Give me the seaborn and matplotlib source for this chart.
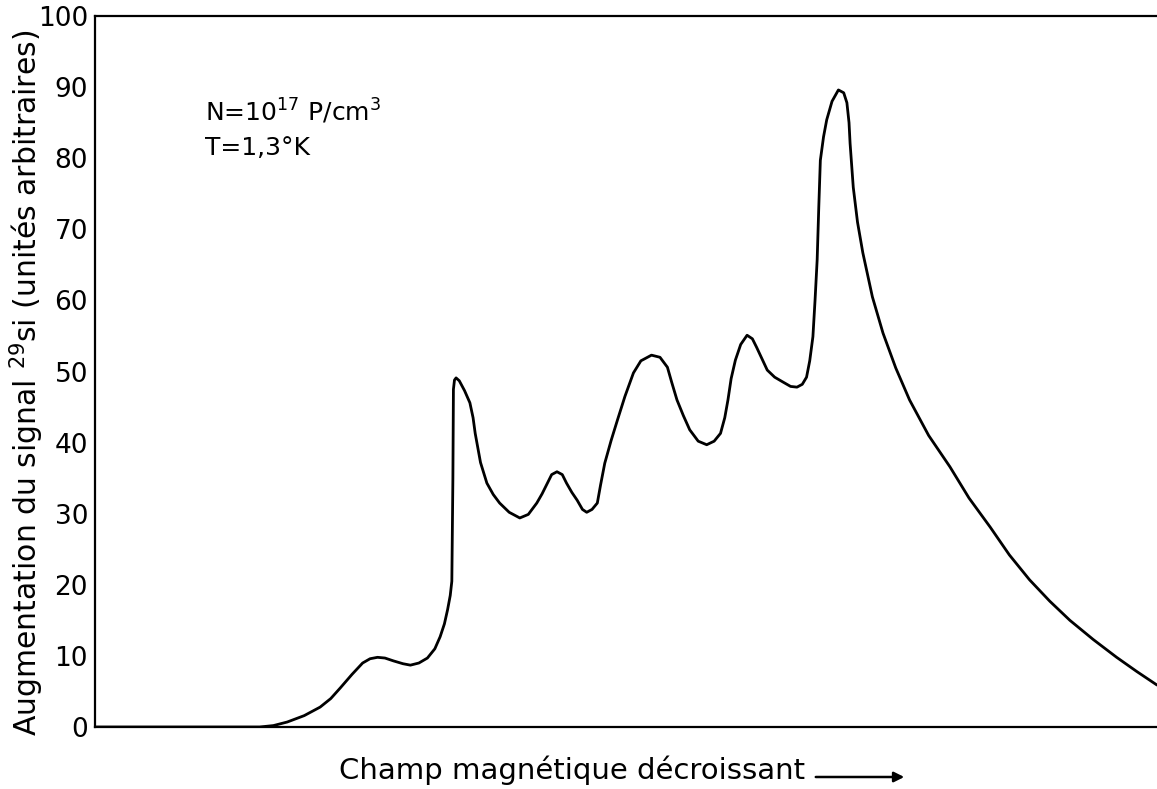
import numpy as np
import pandas as pd
import matplotlib
matplotlib.use("Agg")
import matplotlib.pyplot as plt
import seaborn as sns

# Data (field axis in arbitrary units 0-100)
champ = [0, 5, 10, 15.5, 16.8, 18.1, 19.7, 21.2, 22.2, 23.1, 24.2, 25.2, 25.9, 26.6,
         27.3, 28.1, 29.0, 29.7, 30.5, 31.3, 32.0, 32.5, 32.9, 33.2, 33.45, 33.6,
         33.7, 33.75, 33.85, 34.0, 34.3, 34.8, 35.3, 35.6, 35.8, 36.3, 36.9, 37.5,
         38.1, 39.0, 40.0, 40.8, 41.6, 42.1, 42.6, 43.0, 43.5, 44.0, 44.4, 44.9,
         45.4, 45.9, 46.3, 46.8, 47.3, 47.6, 48.0, 48.6, 49.2, 49.9, 50.7, 51.4,
         52.4, 53.2, 53.9, 54.3, 54.8, 55.4, 56.0, 56.8, 57.6, 58.3, 58.9, 59.3,
         59.6, 59.9, 60.3, 60.8, 61.4, 61.9, 62.3, 62.8, 63.3, 64.0, 64.8, 65.5,
         66.1, 66.6, 67.0, 67.3, 67.6, 67.8, 68.0, 68.15, 68.3, 68.6, 68.9, 69.4,
         70.0, 70.5, 70.8, 71.0, 71.1, 71.4, 71.8, 72.3, 73.2, 74.2, 75.4, 76.7,
         78.5, 80.5, 82.3, 84.3, 86.1, 88.0, 89.9, 91.8, 94.0, 96.2, 98.1, 100.0]
signal = [0, 0, 0, 0, 0.2, 0.7, 1.6, 2.8, 4.0, 5.5, 7.4, 9.0, 9.6, 9.8,
          9.7, 9.3, 8.9, 8.7, 9.0, 9.7, 11.0, 12.7, 14.5, 16.5, 18.5, 20.5,
          35.0, 47.5, 48.8, 49.1, 48.7, 47.3, 45.6, 43.5, 41.3, 37.2, 34.3, 32.7,
          31.5, 30.2, 29.4, 29.9, 31.5, 32.8, 34.3, 35.5, 35.9, 35.5, 34.3, 33.0,
          31.9, 30.6, 30.2, 30.6, 31.5, 34.0, 37.1, 40.3, 43.2, 46.5, 49.8, 51.5,
          52.3, 52.0, 50.6, 48.5, 46.0, 43.8, 41.8, 40.2, 39.7, 40.2, 41.3, 43.5,
          46.0, 49.0, 51.6, 53.8, 55.1, 54.6, 53.4, 51.8, 50.2, 49.2, 48.5, 47.9,
          47.8, 48.2, 49.2, 51.5, 54.9, 60.0, 65.7, 73.0, 79.7, 83.0, 85.4, 88.0,
          89.6, 89.2, 87.8, 85.0, 82.1, 75.9, 71.0, 66.7, 60.5, 55.4, 50.5, 46.0,
          41.0, 36.6, 32.2, 28.1, 24.2, 20.7, 17.7, 15.0, 12.3, 9.8, 7.8, 5.9]
yticks = [0, 10, 20, 30, 40, 50, 60, 70, 80, 90, 100]

df = pd.DataFrame({"champ": champ, "signal": signal})

sns.set_theme(style="white")
plt.rcParams['font.family'] = ['DejaVu Sans']
plt.rcParams['text.color'] = 'black'
plt.rcParams['axes.labelcolor'] = 'black'
plt.rcParams['lines.solid_joinstyle'] = 'round'

fig = plt.figure(figsize=(11.57, 7.89), dpi=100)
ax = fig.add_axes([95/1157, 62/789, 1 - 95/1157, (727-16)/789])

sns.lineplot(data=df, x="champ", y="signal", ax=ax, color="black", lw=2.0,
             estimator=None, sort=False)

ax.set_xlim(0, 100)
ax.set_ylim(0, 100)
ax.set_yticks(yticks)
ax.set_yticklabels([str(t) for t in yticks], fontsize=19)
ax.set_xticks([])
ax.tick_params(axis='y', direction='in', length=10, width=1.5, pad=5, colors='black')

for s in ['top', 'left', 'bottom']:
    ax.spines[s].set_visible(True)
    ax.spines[s].set_color('black')
    ax.spines[s].set_linewidth(1.6)
ax.spines['right'].set_visible(False)

ax.set_xlabel("")
ax.set_ylabel("")
fig.text(27/1157, 1 - 383/789, r"Augmentation du signal $^{29}$si (unités arbitraires)",
         rotation=90, ha='center', va='center', fontsize=21.5)

fig.text(572/1157, 1 - 770/789, "Champ magnétique décroissant", ha='center', va='center',
         fontsize=21)
fig.add_artist(matplotlib.patches.FancyArrowPatch(
    (813/1157, 1 - 777/789), (907/1157, 1 - 777/789), transform=fig.transFigure,
    arrowstyle='-|>', mutation_scale=15, color='black', lw=1.8))

ax.text(0.104, 0.866, r"N=10$^{17}$ P/cm$^{3}$", transform=ax.transAxes, fontsize=18,
        ha='left', va='center')
ax.text(0.104, 0.815, "T=1,3°K", transform=ax.transAxes, fontsize=18,
        ha='left', va='center')

fig.savefig("out.png", dpi=100)
